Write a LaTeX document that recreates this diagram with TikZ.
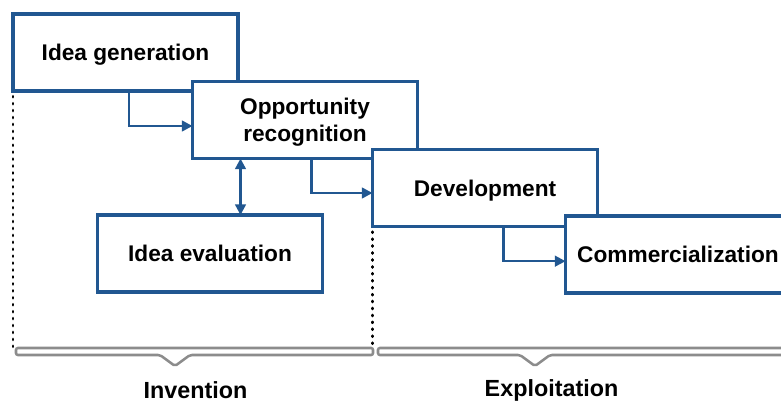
\documentclass[tikz,border=0pt]{standalone}
\usepackage{fontspec}
\setmainfont{Liberation Sans}
\usetikzlibrary{arrows.meta,calc}
\definecolor{boxblue}{HTML}{215791}
\definecolor{brgray}{HTML}{8C8C8C}
\tikzset{
  stage/.style={draw=boxblue, line width=2.8pt, fill=white, inner sep=0pt, outer sep=0pt,
    minimum width=168.75pt, minimum height=57.75pt, align=center, text depth=0pt,
    font=\fontsize{17pt}{20.5pt}\selectfont\bfseries},
  flow/.style={draw=boxblue, line width=1.8pt, -{Triangle[length=8pt,width=8pt]}},
  both/.style={draw=boxblue, line width=1.8pt, {Triangle[length=8pt,width=8pt]}-{Triangle[length=8pt,width=8pt]}},
  sep/.style={line width=2.2pt, line cap=round, dash pattern=on 0.6pt off 4.6pt},
  brace/.style={draw=brgray, line width=1.9pt, fill=white, rounded corners=1.5pt},
  phase/.style={font=\fontsize{17.5pt}{20pt}\selectfont\bfseries, inner sep=0pt}
}
\begin{document}
\begin{tikzpicture}[x=0.75pt,y=-0.75pt]
\useasboundingbox (0,0) rectangle (781,403);
\node[stage] (ig) at (125.5,52.5) {Idea generation};
\node[stage] (or) at (305,120) {Opportunity\\recognition};
\node[stage] (ie) at (210,253.5) {Idea evaluation};
\node[stage] (dev) at (485,188) {Development};
\node[stage] (com) at (678,254.5) {Commercialization};
% flows
\draw[flow] ([xshift=87pt]ig.south west) |- ([yshift=-4.5pt]or.west);
\draw[flow] ([xshift=89.25pt]or.south west) |- ([yshift=-3.75pt]dev.west);
\draw[flow] ([xshift=98.25pt]dev.south west) |- ([yshift=-5pt]com.west);
\draw[both] ([xshift=36pt]or.south west) -- ([xshift=36pt]or.south west |- ie.north);
% separators
\coordinate (b1) at (15,350);
\coordinate (b2) at (373,350);
\draw[sep] ([yshift=-4pt]ig.south west) -- (ig.south west |- b1);
\draw[sep] ([yshift=-4pt]dev.south west) -- (dev.south west |- b2);
% brackets
\draw[brace] (16,348) -- (373,348) -- (373,355) -- (190,355) -- (175,366) -- (160,355) -- (16,355) -- cycle;
\draw[brace] (378,348) -- (800,348) -- (800,355) -- (550,355) -- (535,366) -- (520,355) -- (378,355) -- cycle;
\node[phase] (inv) at (195.5,390) {Invention};
\node[phase] (exp) at (551.5,390) {Exploitation};
\end{tikzpicture}
\end{document}
